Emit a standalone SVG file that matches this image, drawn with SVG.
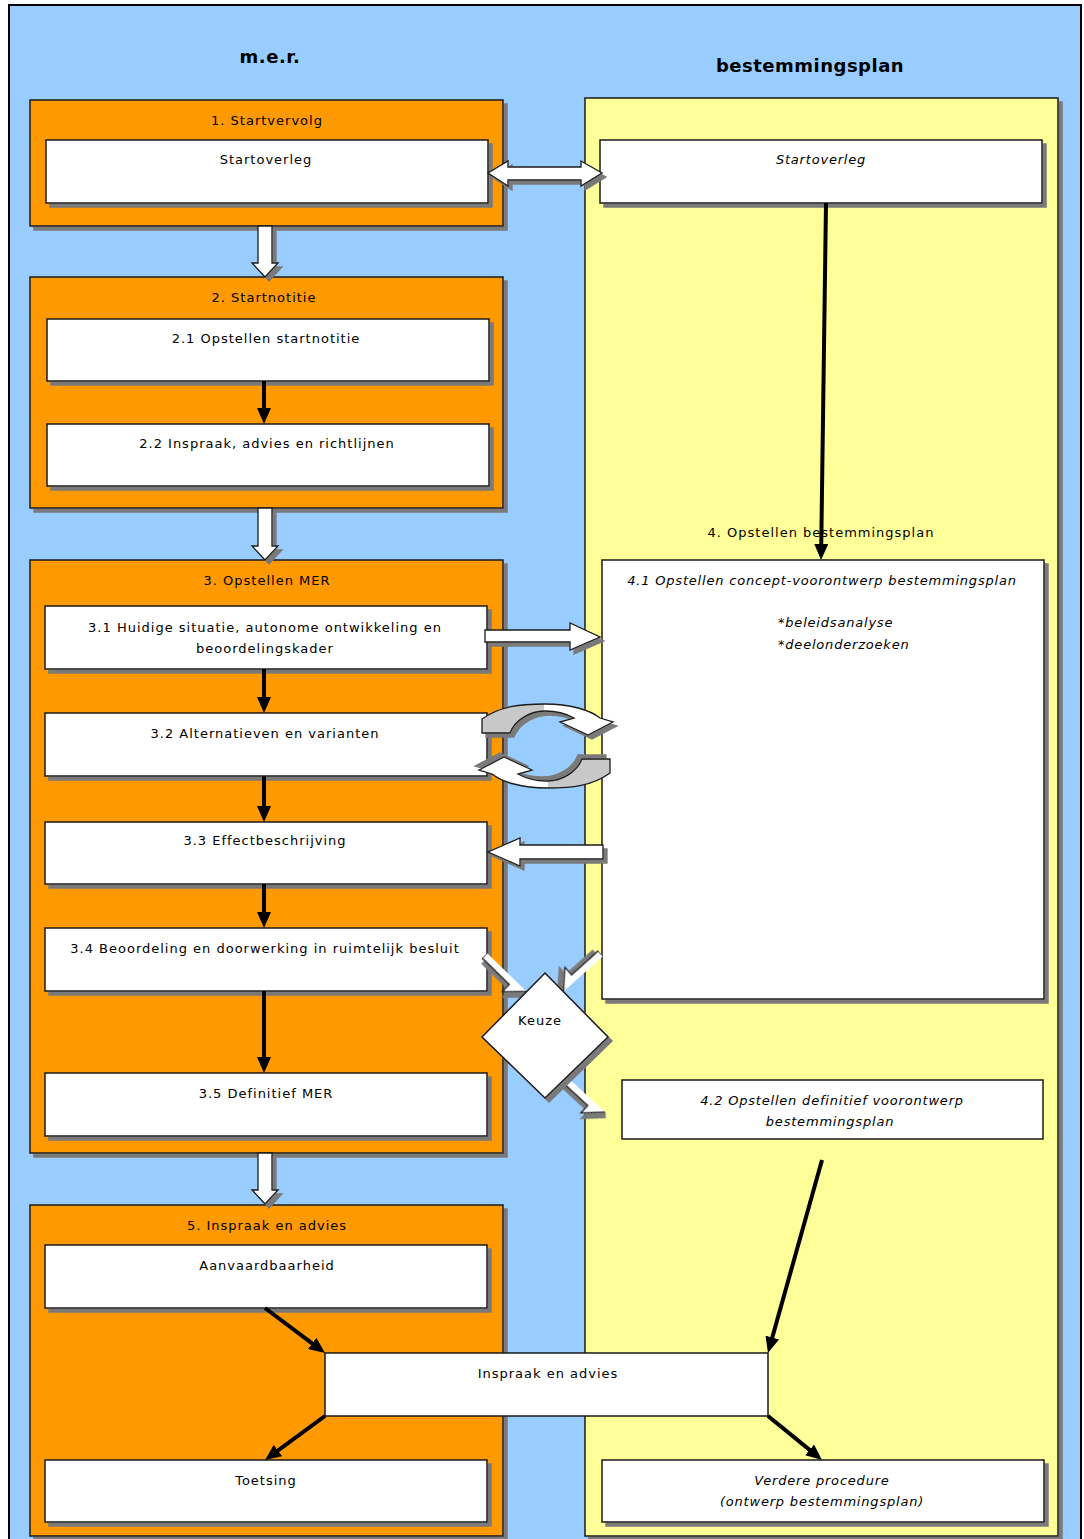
<svg xmlns="http://www.w3.org/2000/svg" width="1084" height="1539" viewBox="0 0 1084 1539">
<style>
.frame{fill:#99CCFF;stroke:#000;stroke-width:2}
.or{fill:#FF9900;stroke:#1a1a1a;stroke-width:1.5;filter:url(#sh)}
.ye{fill:#FFFF99;stroke:#1a1a1a;stroke-width:1.5;filter:url(#sh)}
.bx{fill:#fff;stroke:#1a1a1a;stroke-width:1.5;filter:url(#sh)}
.bxn{fill:#fff;stroke:#1a1a1a;stroke-width:1.5}
.blk{fill:#fff;stroke:#1a1a1a;stroke-width:1.3;filter:url(#sh)}
.ln{stroke:#000;stroke-width:4;fill:none;marker-end:url(#ah)}
text{font-family:"DejaVu Sans","Liberation Sans",sans-serif;font-size:13px;letter-spacing:1px;fill:#000;text-anchor:middle}
.it{font-style:italic;letter-spacing:0.8px}
.hd{font-weight:bold;font-size:18px;letter-spacing:0.5px}
</style>
<defs>
<filter id="sh" filterUnits="userSpaceOnUse" x="0" y="0" width="1084" height="1600">
<feOffset in="SourceAlpha" dx="4" dy="4" result="o"/>
<feFlood flood-color="#7a7a7a"/>
<feComposite in2="o" operator="in"/>
<feMerge><feMergeNode/><feMergeNode in="SourceGraphic"/></feMerge>
</filter>
<marker id="ah" markerUnits="userSpaceOnUse" markerWidth="16" markerHeight="14" refX="4" refY="7" orient="auto">
<path d="M0,0 L16,7 L0,14 Z" fill="#000"/>
</marker>
<linearGradient id="cg" gradientUnits="userSpaceOnUse" x1="482" y1="0" x2="613" y2="0">
<stop offset="0" stop-color="#C8C8C8"/><stop offset="0.47" stop-color="#C8C8C8"/><stop offset="0.47" stop-color="#fff"/><stop offset="1" stop-color="#fff"/>
</linearGradient>
</defs>

<rect class="frame" x="9" y="5" width="1072" height="1545"/>
<g id="lane-mer"><text class="hd" x="270" y="63">m.e.r.</text></g>
<g id="lane-bp">
<rect class="ye" x="585" y="98" width="473" height="1438"/>
<text class="hd" x="810" y="72">bestemmingsplan</text>
<text x="821" y="537">4. Opstellen bestemmingsplan</text>
</g>

<g id="grp1"><rect class="or" x="30" y="100" width="473" height="126"/><text x="267" y="125">1. Startvervolg</text></g>
<g id="grp2"><rect class="or" x="30" y="277" width="473" height="231"/><text x="264" y="302">2. Startnotitie</text></g>
<g id="grp3"><rect class="or" x="30" y="560" width="473" height="593"/><text x="267" y="585">3. Opstellen MER</text></g>
<g id="grp5"><rect class="or" x="30" y="1205" width="473" height="331"/><text x="267" y="1230">5. Inspraak en advies</text></g>

<g id="n-startoverleg"><rect class="bx" x="46" y="140" width="442" height="63"/><text x="266" y="164">Startoverleg</text></g>
<g id="n-startoverleg-bp"><rect class="bx" x="600" y="140" width="442" height="63"/><text class="it" x="821" y="164">Startoverleg</text></g>
<g id="n-2-1"><rect class="bx" x="47" y="319" width="442" height="62"/><text x="266" y="343">2.1 Opstellen startnotitie</text></g>
<g id="n-2-2"><rect class="bx" x="47" y="424" width="442" height="62"/><text x="267" y="448">2.2 Inspraak, advies en richtlijnen</text></g>
<g id="n-3-1"><rect class="bx" x="45" y="606" width="442" height="63"/><text x="265" y="632">3.1 Huidige situatie, autonome ontwikkeling en</text><text x="265" y="653">beoordelingskader</text></g>
<g id="n-3-2"><rect class="bx" x="45" y="713" width="442" height="63"/><text x="265" y="738">3.2 Alternatieven en varianten</text></g>
<g id="n-3-3"><rect class="bx" x="45" y="822" width="442" height="62"/><text x="265" y="845">3.3 Effectbeschrijving</text></g>
<g id="n-3-4"><rect class="bx" x="45" y="928" width="442" height="63"/><text x="265" y="953">3.4 Beoordeling en doorwerking in ruimtelijk besluit</text></g>
<g id="n-3-5"><rect class="bx" x="45" y="1073" width="442" height="63"/><text x="266" y="1098">3.5 Definitief MER</text></g>
<g id="n-4-1"><rect class="bx" x="602" y="560" width="442" height="439"/><text class="it" x="822" y="585">4.1 Opstellen concept-voorontwerp bestemmingsplan</text>
<text class="it" x="778" y="627" style="text-anchor:start">*beleidsanalyse</text><text class="it" x="778" y="649" style="text-anchor:start">*deelonderzoeken</text></g>
<g id="n-4-2"><rect class="bxn" x="622" y="1080" width="421" height="59"/><text class="it" x="832" y="1105">4.2 Opstellen definitief  voorontwerp</text><text class="it" x="830" y="1126">bestemmingsplan</text></g>
<g id="n-aanv"><rect class="bx" x="45" y="1245" width="442" height="63"/><text x="267" y="1270">Aanvaardbaarheid</text></g>
<g id="n-toets"><rect class="bx" x="45" y="1460" width="442" height="62"/><text x="266" y="1485">Toetsing</text></g>
<g id="n-verdere"><rect class="bx" x="602" y="1460" width="442" height="62"/><text class="it" x="822" y="1485">Verdere procedure</text><text class="it" x="822" y="1506">(ontwerp bestemmingsplan)</text></g>
<g id="n-inspraak"><rect class="bxn" x="325" y="1353" width="443" height="63"/><text x="548" y="1378">Inspraak en advies</text></g>

<g id="connectors">
<path class="blk" d="M258,226 L272,226 L272,263 L278,263 L265,277 L252,263 L258,263 Z"/>
<path class="blk" d="M258,508 L272,508 L272,546 L278,546 L265,560 L252,546 L258,546 Z"/>
<path class="blk" d="M258,1153 L272,1153 L272,1190 L278,1190 L265,1204 L252,1190 L258,1190 Z"/>
<path class="blk" d="M488,173 L508,161 L508,167 L581,167 L581,161 L602,173 L581,186 L581,180 L508,180 L508,186 Z"/>
<path class="blk" d="M485,630 L570,630 L570,623 L600,637 L570,650 L570,642 L485,642 Z"/>
<path class="blk" d="M603,845 L520,845 L520,838 L488,852 L520,866 L520,859 L603,859 Z"/>
<path class="blk" d="M0,-7 L38,-7 L38,-17 L55,0 L38,17 L38,7 L0,7 Z" transform="translate(487,953) rotate(44.3)"/>
<path class="blk" d="M0,-7 L36,-7 L36,-17 L53,0 L36,17 L36,7 L0,7 Z" transform="translate(603,956) rotate(138)"/>
<path class="blk" d="M0,-7 L36,-7 L36,-17 L53,0 L36,17 L36,7 L0,7 Z" transform="translate(566,1076) rotate(42.7)"/>
<path d="M482,733 L482,719 C500,706 520,704 545,704 C570,704 590,710 600,718 L613,722 L588,735 L560,722 L574,718 C565,713 555,711 545,711 C530,711 515,720 510,733 Z" fill="url(#cg)" stroke="#1a1a1a" stroke-width="1.3" filter="url(#sh)"/>
<path d="M482,733 L482,719 C500,706 520,704 545,704 C570,704 590,710 600,718 L613,722 L588,735 L560,722 L574,718 C565,713 555,711 545,711 C530,711 515,720 510,733 Z" fill="url(#cg)" stroke="#1a1a1a" stroke-width="1.3" filter="url(#sh)" transform="rotate(180 546 746)"/>
<line class="ln" x1="826" y1="203" x2="821.2" y2="548"/>
<line class="ln" x1="264" y1="381" x2="264" y2="412"/>
<line class="ln" x1="264" y1="669" x2="264" y2="701"/>
<line class="ln" x1="264" y1="776" x2="264" y2="810"/>
<line class="ln" x1="264" y1="884" x2="264" y2="916"/>
<line class="ln" x1="264" y1="991" x2="264" y2="1061"/>
<line class="ln" x1="265" y1="1308" x2="315.4" y2="1345.8"/>
<line class="ln" x1="822" y1="1160" x2="771.2" y2="1341.4"/>
<line class="ln" x1="325" y1="1416" x2="274.7" y2="1452.9"/>
<line class="ln" x1="768" y1="1416" x2="812.7" y2="1452.4"/>
</g>

<g id="n-keuze"><polygon class="bx" points="545,973 608,1037 545,1098 482,1037"/><text x="540" y="1025">Keuze</text></g>
</svg>
